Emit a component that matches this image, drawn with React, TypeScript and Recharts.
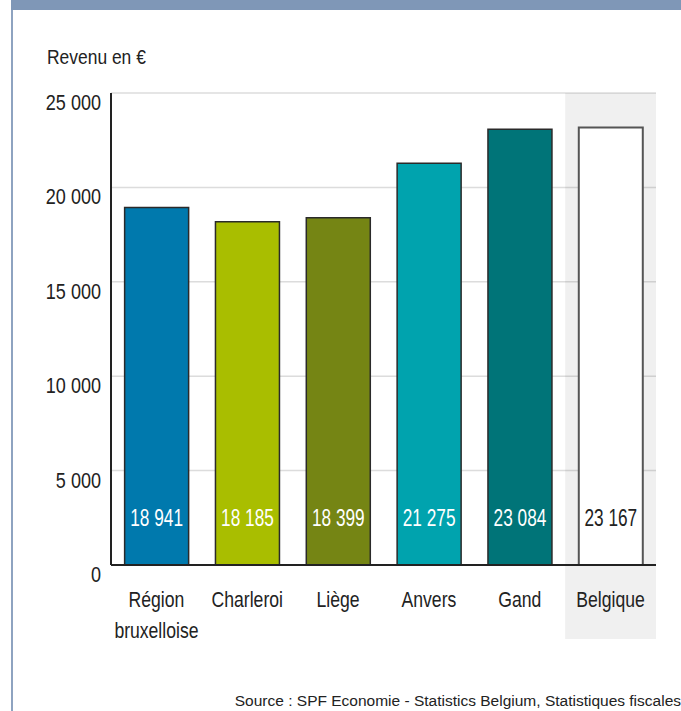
import React from 'react';
import { BarChart, Bar, XAxis, YAxis, CartesianGrid, Cell, LabelList, ReferenceArea } from 'recharts';

const categories = ['Région bruxelloise', 'Charleroi', 'Liège', 'Anvers', 'Gand', 'Belgique'];
const revenus = [18941, 18185, 18399, 21275, 23084, 23167];
const barColors = ['#0079ad', '#a9be00', '#758514', '#00a3ae', '#007478', '#ffffff'];
const labelColors = ['#ffffff', '#ffffff', '#ffffff', '#ffffff', '#ffffff', '#222222'];
const yTicks = [0, 5000, 10000, 15000, 20000, 25000];
const highlighted = 'Belgique';

const data = categories.map((c, i) => ({ name: c, value: revenus[i] }));

const FONT = "'Liberation Sans', Arial, sans-serif";
const fmt = (v: number) => String(v).replace(/\B(?=(\d{3})+(?!\d))/g, ' ');

const CText = ({ x, y, anchor = 'middle', size, sx, fill = '#222', children }: any) => (
  <text
    transform={`translate(${x},${y}) scale(${sx},1)`}
    x={0}
    y={0}
    textAnchor={anchor}
    fontSize={size}
    fill={fill}
    fontFamily={FONT}
  >
    {children}
  </text>
);

const XTick = (props: any) => {
  const { x, y, payload, width, visibleTicksCount } = props;
  const band = width / visibleTicksCount;
  const lines = String(payload.value).split(' ');
  return (
    <g>
      {payload.value === highlighted && (
        <rect x={x - band / 2} y={y + 1} width={band} height={73} fill="#f0f0f0" />
      )}
      {lines.map((l, i) => (
        <CText key={i} x={x} y={y + 42 + i * 31} size={22} sx={0.8}>
          {l}
        </CText>
      ))}
    </g>
  );
};

const YTick = (props: any) => {
  const { x, y, payload } = props;
  return (
    <CText x={x} y={y + 17} anchor="end" size={22} sx={0.82}>
      {fmt(payload.value)}
    </CText>
  );
};

const ValueLabel = (props: any) => {
  const { x, y, width, height, value, index } = props;
  return (
    <CText x={x + width / 2} y={y + height - 39} size={23} sx={0.75} fill={labelColors[index]}>
      {fmt(value)}
    </CText>
  );
};

export default function App() {
  return (
    <div style={{ position: 'absolute', left: 0, top: 0, width: 681, height: 711, background: '#fff', overflow: 'hidden' }}>
      <div style={{ position: 'absolute', left: 11, top: 0, width: 670, height: 10, background: '#7f97b7' }} />
      <div style={{ position: 'absolute', left: 11, top: 10, width: 2, height: 701, background: '#8ea3c0' }} />
      <div
        style={{
          position: 'absolute',
          left: 47,
          top: 45,
          fontFamily: FONT,
          fontSize: 21,
          color: '#222',
          whiteSpace: 'nowrap',
          transform: 'scaleX(0.83)',
          transformOrigin: 'left top',
        }}
      >
        Revenu en €
      </div>
      <div style={{ position: 'absolute', right: 0, top: 692, fontFamily: FONT, fontSize: 15.5, color: '#222', whiteSpace: 'nowrap' }}>
        Source : SPF Economie - Statistics Belgium, Statistiques fiscales
      </div>
      <div style={{ position: 'absolute', left: 0, top: 0 }}>
        <BarChart width={681} height={711} data={data} margin={{ top: 93, right: 25, bottom: 66, left: 0 }} barCategoryGap="15%">
          <CartesianGrid vertical={false} stroke="#dcdcdc" strokeWidth={1.5} />
          <ReferenceArea x1={highlighted} x2={highlighted} fill="#000" fillOpacity={0.06} stroke="none" />
          <XAxis
            dataKey="name"
            tick={<XTick />}
            tickLine={false}
            tickSize={0}
            tickMargin={0}
            interval={0}
            height={80}
            axisLine={{ stroke: '#222', strokeWidth: 2 }}
          />
          <YAxis
            domain={[0, 25000]}
            ticks={yTicks}
            tick={<YTick />}
            tickLine={false}
            tickSize={0}
            tickMargin={10}
            width={111}
            axisLine={{ stroke: '#222', strokeWidth: 2 }}
          />
          <Bar dataKey="value" isAnimationActive={false} stroke="#333" strokeWidth={1.5}>
            {data.map((d, i) => (
              <Cell key={d.name} fill={barColors[i]} stroke={i === 5 ? '#555' : '#2a2a2a'} strokeWidth={i === 5 ? 2 : 1.5} />
            ))}
            <LabelList dataKey="value" content={<ValueLabel />} />
          </Bar>
        </BarChart>
      </div>
    </div>
  );
}
